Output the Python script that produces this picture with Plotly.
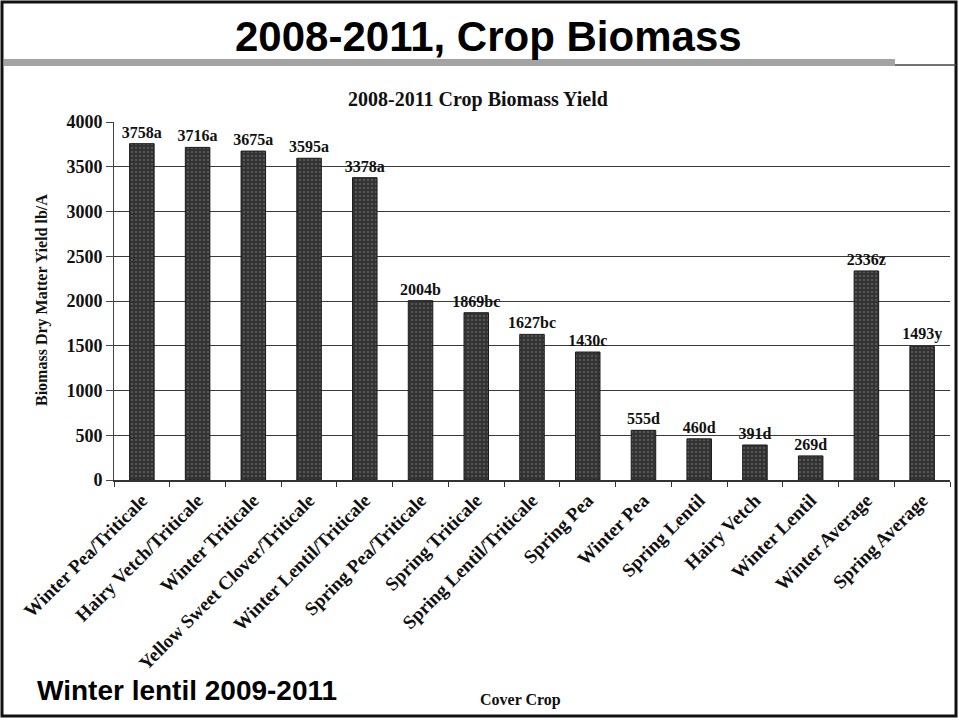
import plotly.graph_objects as go

# Cover crop biomass, 2008-2011 (lb/A dry matter)
crops = [
    "Winter Pea/Triticale", "Hairy Vetch/Triticale", "Winter Triticale",
    "Yellow Sweet Clover/Triticale", "Winter Lentil/Triticale",
    "Spring Pea/Triticale", "Spring Triticale", "Spring Lentil/Triticale",
    "Spring Pea", "Winter Pea", "Spring Lentil", "Hairy Vetch",
    "Winter Lentil", "Winter Average", "Spring Average",
]
yields = [3758, 3716, 3675, 3595, 3378, 2004, 1869, 1627, 1430,
          555, 460, 391, 269, 2336, 1493]
groups = ["a", "a", "a", "a", "a", "b", "bc", "bc", "c",
          "d", "d", "d", "d", "z", "y"]
y_ticks = [0, 500, 1000, 1500, 2000, 2500, 3000, 3500, 4000]

W, H = 959, 723
L, R, T, B = 114, 950, 122, 480  # plot area in pixels


def px(x):
    return (x - L) / (R - L)


def py(y):
    return (B - y) / (B - T)


SERIF = "Liberation Serif"
SANS = "Liberation Sans"

fig = go.Figure()
fig.add_trace(go.Bar(
    x=crops,
    y=yields,
    text=[f"{v}{g}" for v, g in zip(yields, groups)],
    textposition="outside",
    constraintext="none",
    cliponaxis=False,
    textfont=dict(family=SERIF, size=16, color="#111", weight="bold"),
    marker=dict(
        color="#333333",
        line=dict(color="#1a1a1a", width=1),
        pattern=dict(shape=".", fgcolor="#8a8a8a", bgcolor="#333333",
                     size=4, solidity=0.22),
    ),
    width=0.44,
    showlegend=False,
))

shapes = [
    # slide frame
    dict(type="rect", xref="paper", yref="paper",
         x0=px(2), x1=px(956), y0=py(2), y1=py(716),
         line=dict(color="#111", width=3), fillcolor="rgba(0,0,0,0)"),
    # grey band under the heading
    dict(type="rect", xref="paper", yref="paper",
         x0=px(4), x1=px(895), y0=py(59), y1=py(66),
         line=dict(width=0), fillcolor="#a3a3a3"),
    dict(type="line", xref="paper", yref="paper",
         x0=px(895), x1=px(956), y0=py(65), y1=py(65),
         line=dict(color="#444", width=1.5)),
]

annotations = [
    dict(text="2008-2011, Crop Biomass", xref="paper", yref="paper",
         x=px(488), y=py(36), showarrow=False,
         font=dict(family=SANS, size=42, color="#000", weight="bold"),
         xanchor="center", yanchor="middle"),
    dict(text="2008-2011 Crop Biomass Yield", xref="paper", yref="paper",
         x=px(478), y=py(99), showarrow=False,
         font=dict(family=SERIF, size=20, color="#111", weight="bold"),
         xanchor="center", yanchor="middle"),
    dict(text="Winter lentil 2009-2011", xref="paper", yref="paper",
         x=px(35), y=py(690), showarrow=False,
         font=dict(family=SANS, size=28, color="#000", weight="bold"),
         xanchor="left", yanchor="middle"),
    dict(text="Cover Crop", xref="paper", yref="paper",
         x=px(520), y=py(700), showarrow=False,
         font=dict(family=SERIF, size=16, color="#111", weight="bold"),
         xanchor="center", yanchor="middle"),
    dict(text="Biomass Dry Matter Yield lb/A", xref="paper", yref="paper",
         x=px(42), y=py(300), showarrow=False, textangle=-90,
         font=dict(family=SERIF, size=16, color="#111", weight="bold"),
         xanchor="center", yanchor="middle"),
]

fig.update_layout(
    width=W, height=H,
    margin=dict(l=L, r=W - R, t=T, b=H - B),
    paper_bgcolor="white", plot_bgcolor="white",
    bargap=0.56,
    shapes=shapes,
    annotations=annotations,
    xaxis=dict(
        type="category",
        tickangle=-45,
        tickfont=dict(family=SERIF, size=19, color="#111", weight="bold"),
        showline=True, linecolor="#333", linewidth=1.5,
        ticks="outside", tickson="boundaries", ticklen=5,
        tickcolor="#333", showgrid=False,
    ),
    yaxis=dict(
        range=[0, 4000],
        tickvals=y_ticks,
        tickfont=dict(family=SERIF, size=18, color="#111", weight="bold"),
        showline=True, linecolor="#444", linewidth=1,
        ticks="outside", ticklen=7, tickcolor="#444",
        showgrid=True, gridcolor="#3a3a3a", gridwidth=1,
        zeroline=False,
    ),
)

fig.write_html("out.html")
